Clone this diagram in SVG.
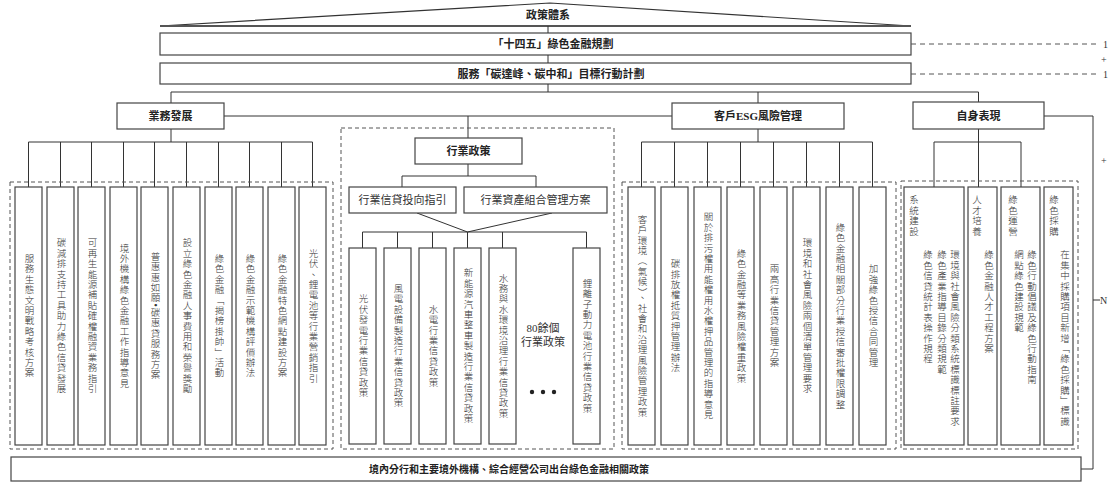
<svg xmlns="http://www.w3.org/2000/svg" width="1112" height="486" viewBox="0 0 1112 486">
<style>
.bx{fill:#fff;stroke:#444;stroke-width:1.2}
.ln{fill:none;stroke:#333;stroke-width:1}
.dc{fill:none;stroke:#555;stroke-width:1;stroke-dasharray:4,3}
.dl{fill:none;stroke:#555;stroke-width:1;stroke-dasharray:5,4}
text{font-family:"Liberation Serif","Noto Sans CJK TC",serif;fill:#222}
.h{font-size:11px;font-weight:bold;text-anchor:middle;dominant-baseline:central}
.t{font-size:11px;text-anchor:middle;dominant-baseline:central;fill:#333}
.v{font-size:9.5px;font-weight:300;writing-mode:vertical-rl;text-anchor:middle;dominant-baseline:central;letter-spacing:0.9px;fill:#333}
.vs{font-size:9.5px;font-weight:300;writing-mode:vertical-rl;text-anchor:start;dominant-baseline:central;letter-spacing:0.9px;fill:#333}
.m{font-size:10px;fill:#333}
</style>

<g id="roof">
<path d="M160,26 L550,3 L911,26 Z" fill="#fff" stroke="#333" stroke-width="1.2"/>
<line x1="160" y1="26" x2="911" y2="26" stroke="#555" stroke-width="2"/>
<text class="h" x="548" y="15">政策體系</text>
</g>

<g id="plan145">
<rect class="bx" x="160" y="33" width="751" height="22"/>
<text class="h" x="553" y="44">「十四五」綠色金融規劃</text>
</g>
<g id="actionplan">
<rect class="bx" x="160" y="63" width="751" height="21"/>
<text class="h" x="551" y="74">服務「碳達峰、碳中和」目標行動計劃</text>
</g>

<g id="connectors">
<path class="ln" d="M548,26V33 M548,55V63 M548,84V92 M171,92H978.5 M171,92V103 M758,92V103 M978.5,92V102"/>
<path class="ln" d="M224,116H672 M468,116V138"/>
<path class="ln" d="M1044,116H1093V469H1081 M1093,300H1100"/>
<path class="ln" d="M171,129V142 M28.5,142H312.5 M28.5,142V187 M60.5,142V187 M91.5,142V187 M123.5,142V187 M154.5,142V187 M186.5,142V187 M218.5,142V187 M249.5,142V187 M281.5,142V187 M312.5,142V187"/>
<path class="ln" d="M468,164V176 M402,176H536 M402,176V187 M536,176V187 M417,213L467.5,232 M552,213L467.5,232 M362.5,232H586.5 M362.5,232V248 M397.5,232V248 M432.5,232V248 M467.5,232V248 M502.5,232V248 M586.5,232V248"/>
<path class="ln" d="M758,129V142 M641.5,142H872.5 M641.5,142V187 M674.5,142V187 M707.5,142V187 M740.5,142V187 M773.5,142V187 M806.5,142V187 M839.5,142V187 M872.5,142V187"/>
<path class="ln" d="M978.5,129V187 M934,142H1021 M934,142V187 M1021,142V187"/>
<path class="dl" d="M911,44H1100 M911,74H1100"/>
</g>

<g id="margin">
<text class="m" x="1103" y="48">1</text>
<text class="m" x="1103" y="78">1</text>
<text class="m" x="1101" y="63">+</text>
<text class="m" x="1101" y="164">+</text>
<text class="m" x="1100" y="304">N</text>
</g>

<g id="business">
<rect class="bx" x="117" y="103" width="107" height="26"/>
<text class="h" x="170.5" y="116">業務發展</text>
<rect class="dc" x="10" y="182" width="323" height="267"/>
<rect class="bx" x="15" y="187" width="27" height="258"/>
<rect class="bx" x="47" y="187" width="27" height="258"/>
<rect class="bx" x="78" y="187" width="27" height="258"/>
<rect class="bx" x="110" y="187" width="27" height="258"/>
<rect class="bx" x="141" y="187" width="27" height="258"/>
<rect class="bx" x="173" y="187" width="27" height="258"/>
<rect class="bx" x="205" y="187" width="27" height="258"/>
<rect class="bx" x="236" y="187" width="27" height="258"/>
<rect class="bx" x="268" y="187" width="27" height="258"/>
<rect class="bx" x="299" y="187" width="27" height="258"/>
<text class="v" x="28.5" y="316">服務生態文明戰略考核方案</text>
<text class="v" x="60.5" y="316">碳減排支持工具助力綠色信貸發展</text>
<text class="v" x="91.5" y="316">可再生能源補貼確權融資業務指引</text>
<text class="v" x="123.5" y="316">境外機構綠色金融工作指導意見</text>
<text class="v" x="154.5" y="316">普惠惠如願•碳惠貸服務方案</text>
<text class="v" x="186.5" y="316">設立綠色金融人事費用和榮譽獎勵</text>
<text class="v" x="218.5" y="316">綠色金融「揭榜掛帥」活動</text>
<text class="v" x="249.5" y="316">綠色金融示範機構評價辦法</text>
<text class="v" x="281.5" y="316">綠色金融特色網點建設方案</text>
<text class="v" x="312.5" y="316">光伏、鋰電池等行業營銷指引</text>
</g>

<g id="industry">
<rect class="dc" x="341" y="128" width="273" height="321"/>
<rect class="bx" x="415" y="138" width="107" height="26"/>
<text class="h" x="468.5" y="151">行業政策</text>
<rect class="bx" x="349" y="187" width="107" height="26"/>
<text class="t" x="402.5" y="200">行業信貸投向指引</text>
<rect class="bx" x="464" y="187" width="143" height="26"/>
<text class="t" x="535.5" y="200">行業資產組合管理方案</text>
<rect class="bx" x="349" y="248" width="27" height="196"/>
<rect class="bx" x="384" y="248" width="27" height="196"/>
<rect class="bx" x="419" y="248" width="27" height="196"/>
<rect class="bx" x="454" y="248" width="27" height="196"/>
<rect class="bx" x="489" y="248" width="27" height="196"/>
<rect class="bx" x="573" y="248" width="27" height="196"/>
<text class="v" x="362.5" y="346">光伏發電行業信貸政策</text>
<text class="v" x="397.5" y="346">風電設備製造行業信貸政策</text>
<text class="v" x="432.5" y="346">水電行業信貸政策</text>
<text class="v" x="467.5" y="346">新能源汽車整車製造行業信貸政策</text>
<text class="v" x="502.5" y="346">水務與水環境治理行業信貸政策</text>
<text class="v" x="586.5" y="346">鋰離子動力電池行業信貸政策</text>
<text class="t" x="543" y="328">80餘個</text>
<text class="t" x="543" y="342">行業政策</text>
<circle cx="532" cy="392" r="2.2" fill="#222"/>
<circle cx="543" cy="392" r="2.2" fill="#222"/>
<circle cx="554" cy="392" r="2.2" fill="#222"/>
</g>

<g id="esg">
<rect class="bx" x="672" y="103" width="172" height="26"/>
<text class="h" x="758" y="116">客戶ESG風險管理</text>
<rect class="dc" x="622" y="182" width="274" height="267"/>
<rect class="bx" x="628" y="187" width="27" height="258"/>
<rect class="bx" x="661" y="187" width="27" height="258"/>
<rect class="bx" x="694" y="187" width="27" height="258"/>
<rect class="bx" x="727" y="187" width="27" height="258"/>
<rect class="bx" x="760" y="187" width="27" height="258"/>
<rect class="bx" x="793" y="187" width="27" height="258"/>
<rect class="bx" x="826" y="187" width="27" height="258"/>
<rect class="bx" x="859" y="187" width="27" height="258"/>
<text class="v" x="641.5" y="316">客戶環境（氣候）、社會和治理風險管理政策</text>
<text class="v" x="674.5" y="316">碳排放權抵質押管理辦法</text>
<text class="v" x="707.5" y="316">關於排污權用能權用水權押品管理的指導意見</text>
<text class="v" x="740.5" y="316">綠色金融等業務風險權重政策</text>
<text class="v" x="773.5" y="316">兩高行業信貸管理方案</text>
<text class="v" x="806.5" y="316">環境和社會風險兩個清單管理要求</text>
<text class="v" x="839.5" y="316">綠色金融相關部分行業授信審批權限調整</text>
<text class="v" x="872.5" y="316">加強綠色授信合同管理</text>
</g>

<g id="self">
<rect class="bx" x="913" y="102" width="131" height="27"/>
<text class="h" x="978.5" y="115.5">自身表現</text>
<rect class="dc" x="901" y="181" width="177" height="268"/>
<rect class="bx" x="904" y="187" width="60" height="258"/>
<rect class="bx" x="968" y="187" width="29" height="258"/>
<rect class="bx" x="1001" y="187" width="39" height="258"/>
<rect class="bx" x="1044" y="187" width="29" height="258"/>
<text class="vs" x="913" y="195">系統建設</text>
<text class="vs" x="954" y="250">環境與社會風險分類系統標識標註要求</text>
<text class="vs" x="941" y="250">綠色產業指導目錄分類規範</text>
<text class="vs" x="927" y="250">綠色信貸統計表操作規程</text>
<text class="vs" x="976" y="195">人才培養</text>
<text class="vs" x="988" y="250">綠色金融人才工程方案</text>
<text class="vs" x="1012" y="195">綠色運營</text>
<text class="vs" x="1031" y="250">綠色行動倡議及綠色行動指南</text>
<text class="vs" x="1018" y="250">網點綠色建設規範</text>
<text class="vs" x="1053" y="195">綠色採購</text>
<text class="vs" x="1064" y="250">在集中採購項目新增「綠色採購」標識</text>
</g>

<g id="bottom">
<rect class="bx" x="11" y="457" width="1070" height="24"/>
<text class="h" x="509" y="469" style="font-size:10px">境內分行和主要境外機構、綜合經營公司出台綠色金融相關政策</text>
</g>
</svg>
